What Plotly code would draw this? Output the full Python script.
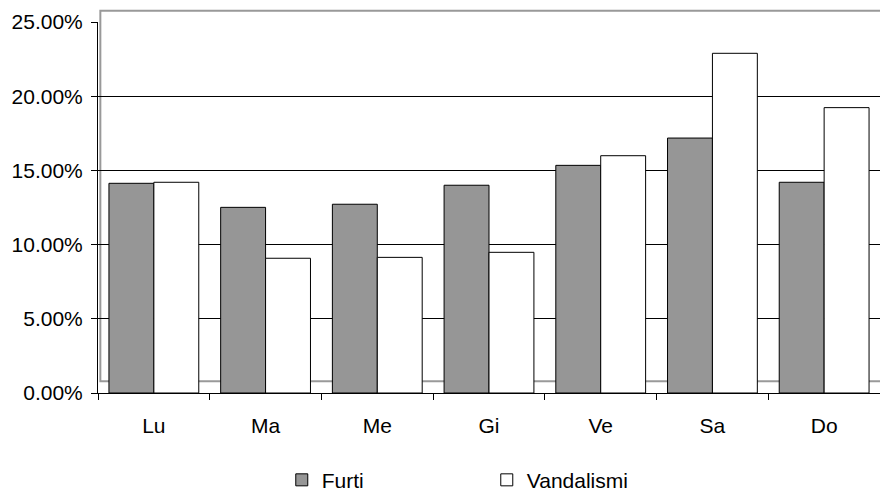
import plotly.graph_objects as go

categories = ["Lu", "Ma", "Me", "Gi", "Ve", "Sa", "Do"]
furti = [14.13, 12.51, 12.72, 14.00, 15.34, 17.18, 14.20]
vandalismi = [14.20, 9.08, 9.14, 9.48, 15.99, 22.89, 19.23]
y_ticks = [0, 5, 10, 15, 20, 25]
y_tick_labels = ["0.00%", "5.00%", "10.00%", "15.00%", "20.00%", "25.00%"]

FONT = dict(family="Liberation Sans, Arial, sans-serif", size=21, color="black")

fig = go.Figure()
fig.add_trace(go.Bar(name="Furti", x=categories, y=furti,
                     marker=dict(color="#969696", line=dict(color="black", width=1))))
fig.add_trace(go.Bar(name="Vandalismi", x=categories, y=vandalismi,
                     marker=dict(color="white", line=dict(color="black", width=1))))

fig.update_layout(
    width=880, height=493,
    margin=dict(l=98, r=0, t=22, b=100, autoexpand=False),
    paper_bgcolor="white", plot_bgcolor="white",
    font=FONT,
    barmode="group", bargap=0.196, bargroupgap=0,
    showlegend=True,
    legend=dict(orientation="h", x=0.235, xanchor="left", y=-0.235, yanchor="middle",
                font=FONT, entrywidth=160, entrywidthmode="pixels",
                bgcolor="rgba(0,0,0,0)", itemclick=False),
    shapes=[dict(type="rect", xref="paper", yref="paper",
                 x0=0.003, x1=1.1, y0=0.032, y1=1.03,
                 line=dict(color="#999999", width=2), layer="below")],
)
fig.update_xaxes(range=[-0.5, 6.5], showline=True, linecolor="black", linewidth=1,
                 ticks="outside", tickson="boundaries", ticklen=6, tickcolor="black",
                 ticklabelstandoff=14, showgrid=False, zeroline=False, automargin=False)
fig.update_yaxes(range=[0, 25], tickvals=y_ticks, ticktext=y_tick_labels,
                 showline=True, linecolor="black", linewidth=1,
                 ticks="outside", ticklen=6, tickcolor="black", ticklabelstandoff=4,
                 showgrid=True, gridcolor="black", gridwidth=1, zeroline=False, automargin=False)

fig.write_html("out.html", config={"displayModeBar": False},
               post_script="document.body.style.margin='0px';document.body.style.overflow='hidden';")
